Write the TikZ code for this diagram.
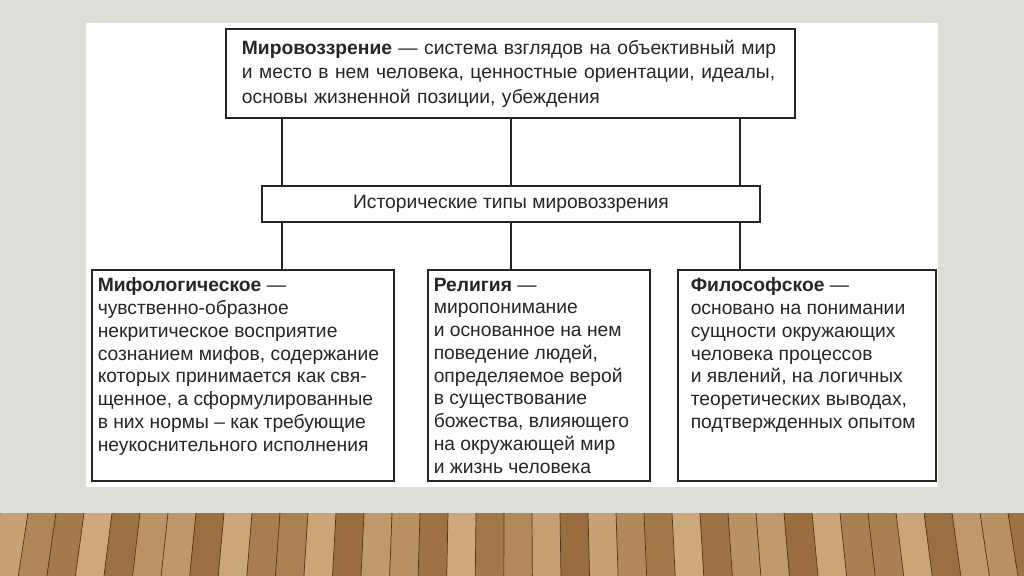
\documentclass[tikz,border=0pt]{standalone}
\usepackage{fontspec}
\setmainfont{Liberation Sans}
\usetikzlibrary{positioning}
\definecolor{wall}{RGB}{223,221,216}
\definecolor{ink}{RGB}{38,38,38}
\definecolor{woodA}{RGB}{180,138,88}
\definecolor{woodB}{RGB}{150,106,60}
\definecolor{woodC}{RGB}{208,172,126}
\definecolor{seam}{RGB}{80,52,26}
\tikzset{
  framebox/.style={draw=ink,line width=1.1pt,fill=white,rectangle,text=ink,
    font=\fontsize{13.7}{16.2}\selectfont},
  link/.style={draw=ink,line width=1.1pt},
}

\begin{document}
\begin{tikzpicture}[x=0.025cm,y=-0.025cm]
    \useasboundingbox (0,0) rectangle (1024,576);
    \fill[wall] (0,0) rectangle (1024,576);
    % floor
    \begin{scope}
    \clip (0,513) rectangle (1024,576);
    \fill[woodA] (0,513) rectangle (1024,576);
    \foreach \x [count=\i] in {-56,-28,...,1080} {
      \pgfmathtruncatemacro\t{50+45*sin(\i*137)}
      \fill[woodC!\t!woodB] (\x,513) -- (\x+28,513) -- ({512+(\x+28-512)*1.02},576) -- ({512+(\x-512)*1.02},576) -- cycle;
      \draw[seam,line width=0.5pt] (\x,513) -- ({512+(\x-512)*1.02},576);
    }
    \end{scope}
    \fill[white] (86,23) rectangle (938,487);
    \node[framebox,font=\fontsize{13.7}{17.5}\selectfont,minimum width=14.225cm,minimum height=2.225cm,text width=13.425cm,inner xsep=0.4cm,align=left] (view) at (510.5,73.5)
      {\textbf{Мировоззрение} — система взглядов на объективный мир\\
       и место в нем человека, ценностные ориентации, идеалы,\\
       основы жизненной позиции, убеждения};
    \node[framebox,minimum width=12.45cm,minimum height=0.9cm] (types) at (511,204) {Исторические типы мировоззрения};
    \node[framebox,anchor=north west,inner xsep=0.15cm,inner ysep=0.2cm] (myth) at (91,269)
      {\parbox[t][4.875cm][t]{7.25cm}{\raggedright
       \textbf{Мифологическое} —\\
       чувственно-образное\\
       некритическое восприятие\\
       сознанием мифов, содержание\\
       которых принимается как свя-\\
       щенное, а сформулированные\\
       в них нормы – как требующие\\
       неукоснительного исполнения}};
    \node[framebox,anchor=north west,inner xsep=0.15cm,inner ysep=0.2cm] (faith) at (427,269)
      {\parbox[t][4.875cm][t]{5.25cm}{\raggedright
       \textbf{Религия} —\\
       миропонимание\\
       и основанное на нем\\
       поведение людей,\\
       определяемое верой\\
       в существование\\
       божества, влияющего\\
       на окружающей мир\\
       и жизнь человека}};
    \node[framebox,anchor=north west,inner xsep=0.325cm,inner ysep=0.2cm] (philo) at (677,269)
      {\parbox[t][4.875cm][t]{5.8cm}{\raggedright
       \textbf{Философское} —\\
       основано на понимании\\
       сущности окружающих\\
       человека процессов\\
       и явлений, на логичных\\
       теоретических выводах,\\
       подтвержденных опытом}};
    \coordinate (c1) at (282,0);
    \coordinate (c2) at (511,0);
    \coordinate (c3) at (740,0);
    \foreach \c in {c1,c2,c3}
      \draw[link] (view.south -| \c) -- (types.north -| \c);
    \draw[link] (types.south -| c1) -- (myth.north -| c1);
    \draw[link] (types.south -| c2) -- (faith.north -| c2);
    \draw[link] (types.south -| c3) -- (philo.north -| c3);
\end{tikzpicture}
\end{document}
